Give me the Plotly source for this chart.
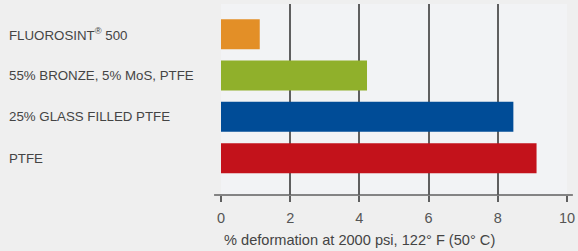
import plotly.graph_objects as go

categories = ["FLUOROSINT® 500", "55% BRONZE, 5% MoS, PTFE", "25% GLASS FILLED PTFE", "PTFE"]
values = [1.12, 4.22, 8.45, 9.12]
colors = ["#E38F27", "#90B02B", "#004C97", "#C3121B"]
x_ticks = [0, 2, 4, 6, 8, 10]
x_title = "% deformation at 2000 psi, 122° F (50° C)"

FONT = "Liberation Sans, Arial, sans-serif"
GRID = "#5f5f5f"

fig = go.Figure(go.Bar(
    x=values, y=categories, orientation="h",
    marker=dict(color=colors, line=dict(width=0)),
    width=0.726, hoverinfo="skip",
))

annotations = [
    dict(text=c.replace("®", "<sup>®</sup>"), x=-0.6185, xref="paper", y=c, yref="y",
         xanchor="left", yanchor="middle", showarrow=False,
         font=dict(family=FONT, size=13.3, color="#444444"))
    for c in categories
]
annotations.append(dict(text=x_title, x=0.003, xref="paper", y=-0.236, yref="paper",
                        xanchor="left", yanchor="middle", showarrow=False,
                        font=dict(family=FONT, size=14.6, color="#444444")))

fig.update_layout(
    width=578, height=251,
    margin=dict(l=221, r=11, t=4, b=56),
    paper_bgcolor="#EFEFEF", plot_bgcolor="#F2F3F5",
    showlegend=False,
    font=dict(family=FONT, size=14, color="#555555"),
    xaxis=dict(range=[0, 10], tickvals=x_ticks, showgrid=True, gridcolor=GRID, gridwidth=1.5,
               ticks="outside", ticklen=6, tickwidth=1.5, tickcolor=GRID,
               ticklabelstandoff=4,
               zeroline=False, showline=False, fixedrange=True,
               tickfont=dict(family=FONT, size=14.5, color="#555555")),
    yaxis=dict(type="category", categoryarray=categories, range=[3.89, -0.73],
               showticklabels=False, showgrid=False, zeroline=False, showline=False,
               ticks="", fixedrange=True),
    annotations=annotations,
    shapes=[dict(type="line", xref="paper", yref="paper", x0=-0.02, x1=1.017, y0=0, y1=0,
                 line=dict(color=GRID, width=1.5))],
)

fig.write_html("out.html", config={"displayModeBar": False},
               post_script="document.body.style.margin='0';document.body.style.background='#EFEFEF';")
